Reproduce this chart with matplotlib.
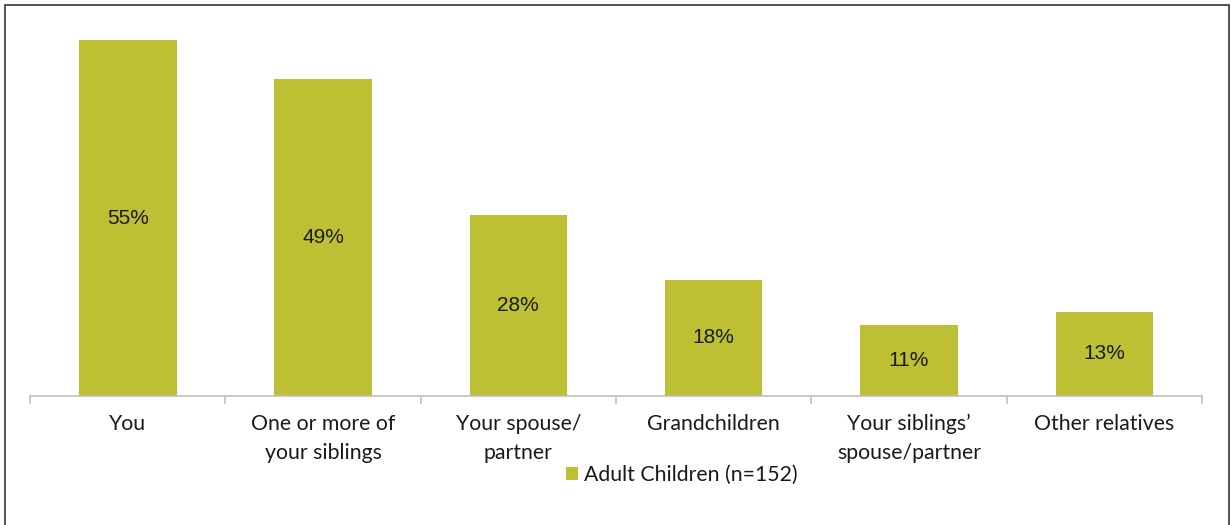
import matplotlib
matplotlib.use("Agg")
import matplotlib.pyplot as plt
from matplotlib.patches import Rectangle
import numpy as np

# Data
categories = ["You", "One or more of\nyour siblings", "Your spouse/\npartner",
              "Grandchildren", "Your siblings\u2019\nspouse/partner", "Other relatives"]
values = [55, 49, 28, 18, 11, 13]
value_labels = ["55%", "49%", "28%", "18%", "11%", "13%"]
series_name = "Adult Children (n=152)"

BAR_COLOR = "#BDC033"
AXIS_COLOR = "#BFBFBF"
TEXT_COLOR = "#1A1A1A"

fig = plt.figure(figsize=(12.31, 5.25), dpi=100)
ax = fig.add_axes([30 / 1231, (525 - 396) / 525, (1202 - 30) / 1231, (396 - 8) / 525])

x = np.arange(len(categories))
bars = ax.bar(x, values, width=0.5, color=BAR_COLOR, label=series_name)

# value labels at the middle of each bar
for xi, v, lab in zip(x, values, value_labels):
    ax.text(xi, v / 2, lab, ha="center", va="center", fontsize=15,
            family="Liberation Sans", color=TEXT_COLOR)

ax.set_xlim(-0.5, len(categories) - 0.5)
ax.set_ylim(0, 60)
ax.set_yticks([])
for side in ["top", "right", "left"]:
    ax.spines[side].set_visible(False)
ax.spines["bottom"].set_color(AXIS_COLOR)
ax.spines["bottom"].set_linewidth(1.2)

# category labels centered, tick marks between categories
ax.set_xticks(x)
ax.set_xticklabels(categories, fontsize=15.3, family="Lato", color=TEXT_COLOR,
                   linespacing=1.55, va="top")
ax.tick_params(axis="x", which="major", length=0, pad=13)
ax.set_xticks(np.arange(len(categories) + 1) - 0.5, minor=True)
ax.tick_params(axis="x", which="minor", length=6, color=AXIS_COLOR, width=1.2)

leg = fig.legend(handles=[bars], labels=[series_name], loc="center left",
                 bbox_to_anchor=(566 / 1231, 1 - 475 / 525), frameon=False,
                 borderpad=0, borderaxespad=0,
                 handlelength=0.55, handleheight=0.55, handletextpad=0.3,
                 prop={"family": "Lato", "size": 15.3})
for t in leg.get_texts():
    t.set_color(TEXT_COLOR)

# outer border of the chart (bottom edge runs off the image)
fig.patches.append(Rectangle((5 / 1231, -0.02), 1224 / 1231, 1 - 5 / 525 + 0.02,
                             transform=fig.transFigure, fill=False,
                             edgecolor="#333333", linewidth=1.2))

fig.savefig("out.png", dpi=100)
